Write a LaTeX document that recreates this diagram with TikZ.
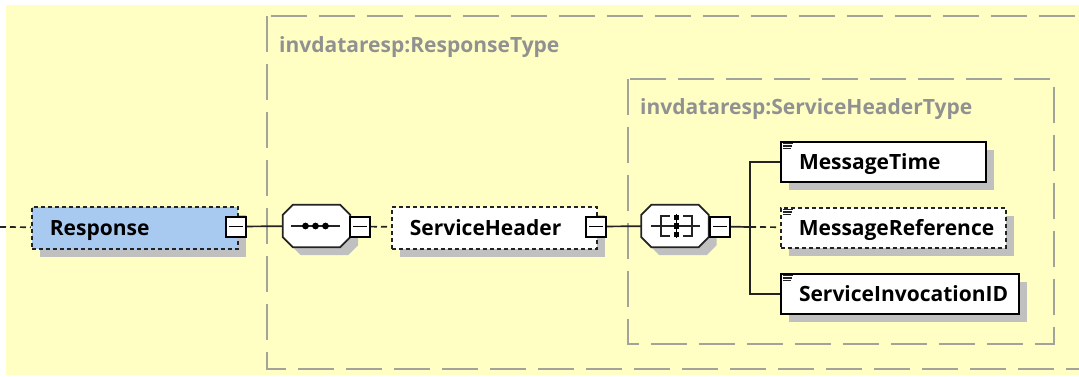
\documentclass[tikz,border=0pt]{standalone}
\usepackage{fontspec}
\setmainfont{Open Sans}
\usetikzlibrary{calc,shadows}
\definecolor{bgyellow}{RGB}{255,255,196}
\definecolor{respblue}{RGB}{168,202,241}
\definecolor{shgray}{RGB}{192,192,192}
\definecolor{typegray}{RGB}{163,163,158}
\definecolor{labelgray}{RGB}{145,145,145}
\definecolor{linedark}{RGB}{35,35,35}
\newcommand\drawocta[1]{%
  \fill[shgray] ($(#1.north west)+(18,8)$) -- ($(#1.north east)+(-2,8)$) -- ($(#1.north east)+(8,18)$) -- ($(#1.south east)+(8,-2)$) -- ($(#1.south east)+(-2,8)$) -- ($(#1.south west)+(18,8)$) -- ($(#1.south west)+(8,-2)$) -- ($(#1.north west)+(8,18)$) -- cycle;
  \draw[octaline] ($(#1.north west)+(10,0)$) -- ($(#1.north east)+(-10,0)$) -- ($(#1.north east)+(0,10)$) -- ($(#1.south east)+(0,-10)$) -- ($(#1.south east)+(-10,0)$) -- ($(#1.south west)+(10,0)$) -- ($(#1.south west)+(0,-10)$) -- ($(#1.north west)+(0,10)$) -- cycle;}
\newcommand\docicon[1]{%
  \draw[line width=1.1pt,linedark] ($(#1.north west)+(3,2.5)$) -- ++(10,0);
  \draw[line width=1.1pt,linedark] ($(#1.north west)+(3,5)$) -- ++(9,0);
  \draw[line width=1.1pt,linedark] ($(#1.north west)+(3,7.5)$) -- ++(8,0);}
\begin{document}
\begin{tikzpicture}[x=1pt,y=-1pt,
  elem/.style={draw=black, line width=2pt, fill=white, anchor=north west,
    inner ysep=0pt, inner xsep=18pt, text height=15pt, text depth=0pt,
    minimum height=40pt, align=left, font=\fontsize{21}{24}\selectfont\bfseries,
    drop shadow={shadow xshift=8pt, shadow yshift=-8pt, fill=shgray, opacity=1}},
  optelem/.style={elem, draw=linedark, line width=1.7pt, dash pattern=on 4pt off 3pt},
  minusbox/.style={draw=black, line width=2pt, fill=white, inner sep=0pt,
    minimum width=20pt, minimum height=20pt,
    path picture={\draw[line width=1.5pt] ([xshift=3pt]path picture bounding box.west) -- ([xshift=-3pt]path picture bounding box.east);}},
  octa/.style={inner sep=0pt, minimum width=67pt, minimum height=42pt},
  octaline/.style={draw=linedark, line width=1.8pt, fill=white},
  conn/.style={draw=linedark, line width=1.7pt},
  optconn/.style={conn, dash pattern=on 6pt off 4pt},
  typebox/.style={draw=typegray, line width=2.2pt, dash pattern=on 36pt off 12pt},
  typelabel/.style={anchor=base west, text=labelgray, font=\fontsize{21}{24}\selectfont\bfseries, inner sep=0pt}
]
\useasboundingbox (0,0) rectangle (1079,376);
\clip (0,0) rectangle (1079,376);
\fill[white] (0,0) rectangle (1079,376);
\fill[bgyellow] (6,5) rectangle (1079,375);
% type boxes
\draw[typebox] (267,16) rectangle (1110,369);
\node[typelabel] (rtlabel) at (279,52) {invdataresp:ResponseType};
\draw[typebox] (628,79) rectangle (1054,344);
\node[typelabel] (shtlabel) at (640,114) {invdataresp:ServiceHeaderType};
% elements
\node[optelem, fill=respblue, minimum width=206pt, minimum height=42pt, text width=170pt] (resp) at (31,206) {Response};
\node[optelem, minimum width=205pt, minimum height=42pt, text width=169pt] (sh) at (391,206) {ServiceHeader};
\node[elem, minimum width=205pt, text width=169pt] (mt) at (780,141) {MessageTime};
\node[optelem, minimum width=225pt, text width=189pt] (mr) at (780,207) {MessageReference};
\node[elem, minimum width=238pt, text width=202pt] (sid) at (780,273) {ServiceInvocationID};
\docicon{mt}
\docicon{mr}
\docicon{sid}
% compositors
\node[octa] (seq) at (316.5,226) {};
\drawocta{seq}
\node[octa] (cho) at (675,226) {};
\drawocta{cho}
% sequence icon
\draw[line width=1.6pt,linedark] ($(seq.west)+(8,0)$) -- ($(seq.east)+(-10,0)$);
\foreach \dx in {-11,-1,9} \fill[black] ($(seq.center)+(\dx,0)$) circle (3.4pt);
% choice icon
\coordinate (cc) at ($(cho.center)+(1.5,0)$);
\draw[line width=1.6pt,linedark] ($(cho.west)+(10,0)$) -- ($(cho.east)+(-9,0)$);
\draw[line width=1.6pt,linedark] ($(cc)+(-6.5,-10)$) -- ($(cc)+(-15.5,-10)$) -- ($(cc)+(-15.5,10)$) -- ($(cc)+(-6.5,10)$);
\draw[line width=1.6pt,linedark] ($(cc)+(6.5,-10)$) -- ($(cc)+(15.5,-10)$) -- ($(cc)+(15.5,10)$) -- ($(cc)+(6.5,10)$);
\draw[line width=1.2pt,black] ($(cc)+(0,-12)$) -- ($(cc)+(0,12)$);
\foreach \dy in {-8.5,0,8.5} \fill[black] ($(cc)+(-2.8,\dy-2.8)$) rectangle ($(cc)+(2.8,\dy+2.8)$);
% minus boxes
\node[minusbox] (respm) at (235.5,226.5) {};
\node[minusbox] (seqm) at (360,226.5) {};
\node[minusbox] (shm) at (596,226.5) {};
\node[minusbox] (chom) at (720,226.5) {};
% connectors
\coordinate (start) at (0,227);
\coordinate (spine) at (750,227);
\draw[optconn] (start) -- (resp);
\draw[conn] (respm) -- (seq);
\draw[optconn] (seqm) -- (sh);
\draw[conn] (shm) -- (cho);
\draw[conn] (chom) -- (spine);
\draw[conn] (spine) |- (mt);
\draw[conn] (spine) |- (sid);
\draw[optconn] (spine) -- (mr);
\end{tikzpicture}
\end{document}
